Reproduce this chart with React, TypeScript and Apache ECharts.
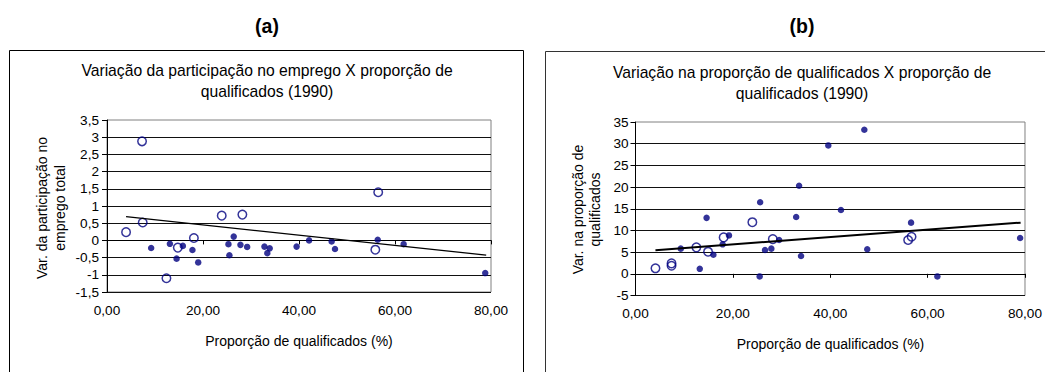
import React, { useEffect, useRef } from "react";
import * as echarts from "echarts";

// Panel (a): variação da participação no emprego
const aOpenX = [3.97, 7.3, 7.44, 12.38, 14.75, 18.1, 23.9, 28.2, 56.5, 55.9];
const aOpenY = [0.24, 2.88, 0.52, -1.1, -0.21, 0.07, 0.72, 0.75, 1.4, -0.27];
const aFilledX = [9.2, 13.1, 14.5, 15.8, 17.8, 19.0, 25.3, 25.5, 26.4, 27.8, 29.2, 32.8, 33.4, 33.9, 39.5, 42.1, 46.8, 47.5, 56.4, 61.8, 78.8];
const aFilledY = [-0.22, -0.1, -0.53, -0.16, -0.28, -0.64, -0.11, -0.43, 0.11, -0.13, -0.19, -0.18, -0.37, -0.23, -0.18, 0.0, -0.03, -0.25, 0.02, -0.11, -0.95];
const aTrendX = [3.97, 79.0];
const aTrendY = [0.69, -0.43];

// Panel (b): variação na proporção de qualificados
const bOpenX = [4.1, 7.4, 7.4, 12.5, 14.9, 18.1, 24.0, 28.2, 56.0, 56.7];
const bOpenY = [1.27, 2.4, 1.85, 6.1, 5.1, 8.4, 11.9, 8.0, 7.8, 8.55];
const bFilledX = [9.3, 13.2, 14.6, 16.0, 17.9, 19.2, 25.5, 25.6, 26.6, 27.9, 29.5, 33.0, 33.6, 34.0, 39.6, 42.2, 47.0, 47.6, 56.6, 62.0, 79.0];
const bFilledY = [5.8, 1.15, 12.9, 4.4, 6.8, 8.85, -0.6, 16.5, 5.5, 5.8, 7.8, 13.1, 20.3, 4.1, 29.6, 14.7, 33.2, 5.65, 11.8, -0.6, 8.25];
const bTrendX = [4.1, 79.1];
const bTrendY = [5.41, 11.8];

const panelLabels = ["(a)", "(b)"];
const panelTitles = [
  "Variação da participação no emprego X proporção de\nqualificados (1990)",
  "Variação na proporção de qualificados X proporção de\nqualificados (1990)",
];
const yTitles = ["Var. da participação no\nemprego total", "Var. na proporção de\nqualificados"];
const xTitle = "Proporção de qualificados (%)";

const FONT = "Liberation Sans, Arial, sans-serif";
const NAVY = "#000080";

const zip = (xs: number[], ys: number[]) => xs.map((x, i) => [x, ys[i]]);

export default function App() {
  const ref = useRef<HTMLDivElement>(null);
  useEffect(() => {
    if (!ref.current) return;
    const chart = echarts.init(ref.current, undefined, { renderer: "svg" });

    const commaNum = (v: number) => String(v).replace(".", ",");
    const xFmt = (v: number) => v.toFixed(2).replace(".", ",");

    const makeX = (gridIndex: number) => ({
      type: "value",
      gridIndex,
      min: 0,
      max: 80,
      interval: 20,
      axisLine: { show: true, lineStyle: { color: "#000", width: 1 } },
      axisTick: { show: true, length: 4, lineStyle: { color: "#000" } },
      axisLabel: { formatter: xFmt, color: "#000", fontSize: 13.6, fontFamily: FONT, margin: 11 },
      splitLine: { show: false },
    });
    const makeY = (gridIndex: number, min: number, max: number, interval: number, margin: number) => ({
      type: "value",
      gridIndex,
      min,
      max,
      interval,
      axisLine: { show: true, onZero: false, lineStyle: { color: "#000", width: 1 } },
      axisTick: { show: true, length: 5, lineStyle: { color: "#000" } },
      axisLabel: { formatter: commaNum, color: "#000", fontSize: 13.6, fontFamily: FONT, margin },
      splitLine: { show: true, showMaxLine: false, lineStyle: { color: "#111", width: 1 } },
    });

    const openSeries = (xAxisIndex: number, data: number[][]) => ({
      type: "scatter",
      xAxisIndex,
      yAxisIndex: xAxisIndex,
      data,
      symbol: "circle",
      symbolSize: 8.5,
      itemStyle: { color: "rgba(0,0,0,0)", borderColor: NAVY, borderWidth: 1.5 },
      z: 3,
    });
    const filledSeries = (xAxisIndex: number, data: number[][]) => ({
      type: "scatter",
      xAxisIndex,
      yAxisIndex: xAxisIndex,
      data,
      symbol: "circle",
      symbolSize: 6.5,
      itemStyle: { color: NAVY },
      z: 3,
    });
    const trendSeries = (xAxisIndex: number, data: number[][], width: number) => ({
      type: "line",
      xAxisIndex,
      yAxisIndex: xAxisIndex,
      data,
      symbol: "none",
      lineStyle: { color: "#000", width },
      z: 4,
    });

    const textEl = (text: string, x: number, y: number, size: number, extra: any = {}) => ({
      type: "text",
      x,
      y,
      ...extra,
      style: {
        text,
        fill: "#000",
        font: `${extra.weight || "normal"} ${size}px ${FONT}`,
        align: "center",
        verticalAlign: "middle",
        lineHeight: extra.lineHeight || size * 1.3,
      },
    });

    chart.setOption({
      animation: false,
      grid: [
        { left: 107, top: 120, width: 384, height: 172, show: true, borderColor: "#808080", borderWidth: 1, backgroundColor: "transparent" },
        { left: 635.5, top: 122, width: 390, height: 173.5, show: true, borderColor: "#808080", borderWidth: 1, backgroundColor: "transparent" },
      ],
      xAxis: [makeX(0), makeX(1)],
      yAxis: [makeY(0, -1.5, 3.5, 0.5, 8), makeY(1, -5, 35, 5, 7)],
      series: [
        trendSeries(0, zip(aTrendX, aTrendY), 1.3),
        openSeries(0, zip(aOpenX, aOpenY)),
        filledSeries(0, zip(aFilledX, aFilledY)),
        trendSeries(1, zip(bTrendX, bTrendY), 2),
        openSeries(1, zip(bOpenX, bOpenY)),
        filledSeries(1, zip(bFilledX, bFilledY)),
      ],
      graphic: [
        { type: "rect", shape: { x: 9.5, y: 50.5, width: 514, height: 340 }, style: { fill: "none", stroke: "#000", lineWidth: 1 }, z: -1 },
        { type: "rect", shape: { x: 545.5, y: 51.5, width: 520, height: 340 }, style: { fill: "none", stroke: "#333", lineWidth: 1 }, z: -1 },
        textEl(panelLabels[0], 267, 25.5, 19.5, { weight: "bold" }),
        textEl(panelLabels[1], 802, 25.5, 19.5, { weight: "bold" }),
        textEl(panelTitles[0], 267, 81.3, 15.7, { lineHeight: 20.7 }),
        textEl(panelTitles[1], 802, 83, 15.7, { lineHeight: 20.7 }),
        textEl(yTitles[0], 51, 208, 14, { rotation: Math.PI / 2, lineHeight: 18.3 }),
        textEl(yTitles[1], 586.7, 209.5, 14, { rotation: Math.PI / 2, lineHeight: 16.7 }),
        textEl(xTitle, 299, 340.7, 14),
        textEl(xTitle, 830.5, 344, 14),
      ],
    });
    return () => chart.dispose();
  }, []);
  return <div ref={ref} style={{ position: "fixed", left: 0, top: 0, width: 1045, height: 372, background: "#fff" }} />;
}
